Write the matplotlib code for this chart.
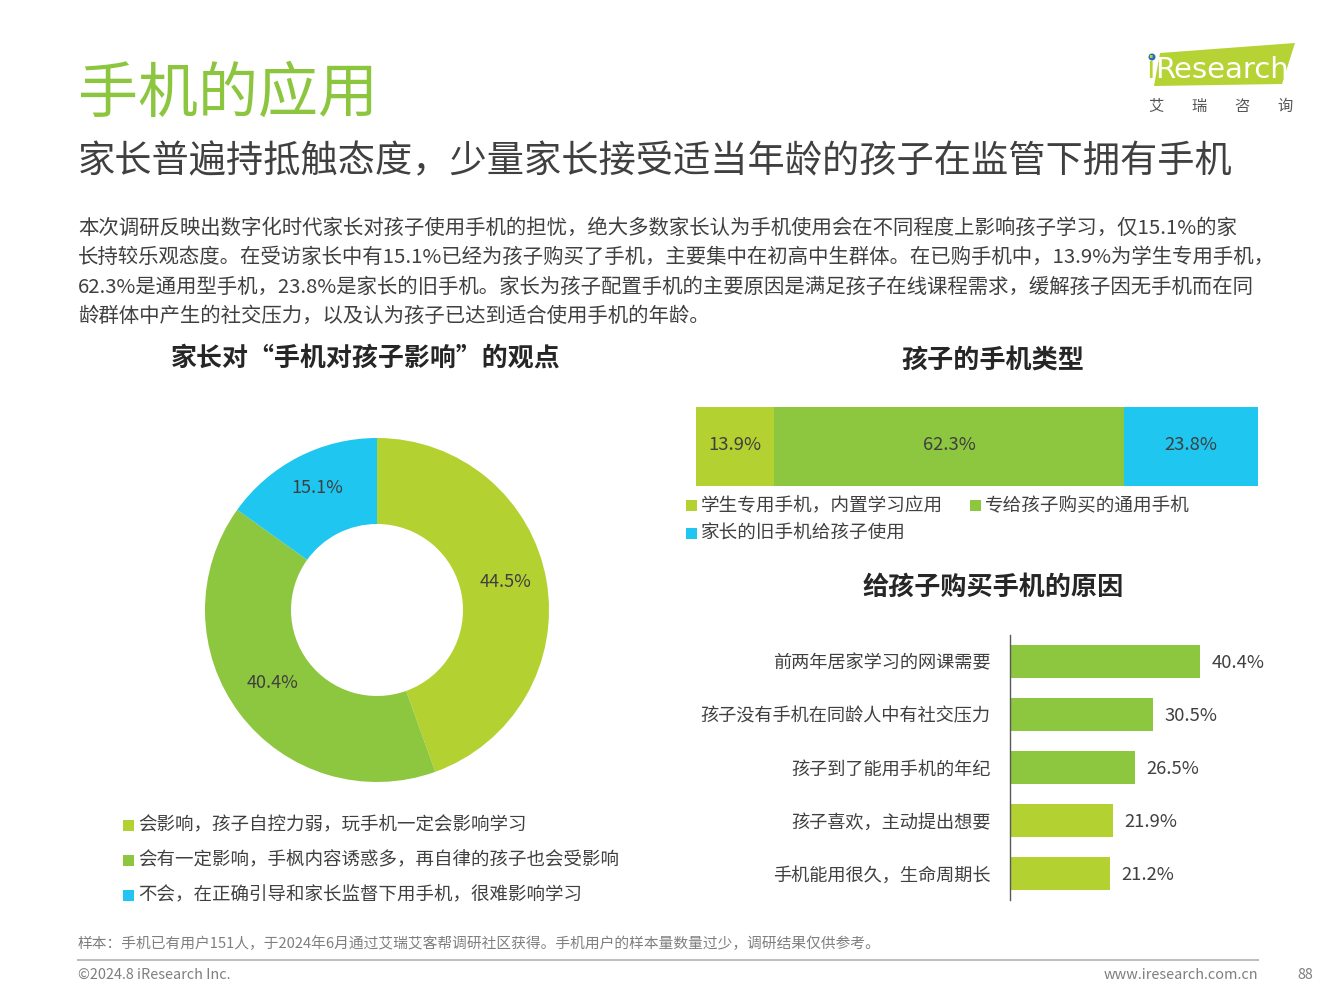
import matplotlib
matplotlib.use("Agg")
import matplotlib.pyplot as plt
from matplotlib.patches import Polygon, Rectangle, Circle

plt.rcParams["font.family"] = ["Noto Sans CJK SC", "DejaVu Sans"]

W, H = 1333, 1000

# donut: 家长对“手机对孩子影响”的观点
impact_labels = ["会影响，孩子自控力弱，玩手机一定会影响学习",
                 "会有一定影响，手枫内容诱惑多，再自律的孩子也会受影响",
                 "不会，在正确引导和家长监督下用手机，很难影响学习"]
impact_values = [44.5, 40.4, 15.1]

# stacked bar: 孩子的手机类型
type_labels = ["学生专用手机，内置学习应用", "专给孩子购买的通用手机", "家长的旧手机给孩子使用"]
type_values = [13.9, 62.3, 23.8]

# horizontal bars: 给孩子购买手机的原因
reason_labels = ["前两年居家学习的网课需要", "孩子没有手机在同龄人中有社交压力", "孩子到了能用手机的年纪",
                 "孩子喜欢，主动提出想要", "手机能用很久，生命周期长"]
reason_values = [40.4, 30.5, 26.5, 21.9, 21.2]

YG = "#B3D130"
GREEN = "#8DC63F"
BLUE = "#1EC6F0"
DARK = "#404040"

body_lines = [
    "本次调研反映出数字化时代家长对孩子使用手机的担忧，绝大多数家长认为手机使用会在不同程度上影响孩子学习，仅15.1%的家",
    "长持较乐观态度。在受访家长中有15.1%已经为孩子购买了手机，主要集中在初高中生群体。在已购手机中，13.9%为学生专用手机，",
    "62.3%是通用型手机，23.8%是家长的旧手机。家长为孩子配置手机的主要原因是满足孩子在线课程需求，缓解孩子因无手机而在同",
    "龄群体中产生的社交压力，以及认为孩子已达到适合使用手机的年龄。",
]


def fx(x):
    return x / W


def fy(y):
    return 1 - y / H


def box(x0, y0, x1, y1):
    return [fx(x0), fy(y1), (x1 - x0) / W, (y1 - y0) / H]


fig = plt.figure(figsize=(W / 100, H / 100), dpi=100)

# titles
fig.text(fx(78), fy(95), "手机的应用", fontsize=43.2, color="#8CC63E", va="center", ha="left")
fig.text(fx(78), fy(162), "家长普遍持抵触态度，少量家长接受适当年龄的孩子在监管下拥有手机",
         fontsize=26.8, color=DARK, va="center", ha="left")
for i, line in enumerate(body_lines):
    fig.text(fx(78), fy(228 + i * 29.5), line, fontsize=14.7, color=DARK, va="center", ha="left")

# logo
logo = fig.add_axes([0, 0, 1, 1], facecolor="none")
logo.set_xlim(0, W)
logo.set_ylim(H, 0)
logo.axis("off")
logo.add_patch(Polygon([(1160, 53), (1295, 43), (1282, 84), (1154, 86)], closed=True, color="#B5D334", lw=0))
logo.text(1150, 70, "i", fontsize=22, color="#B5D334", va="center", ha="center", family="DejaVu Sans")
logo.add_patch(Circle((1152, 57), 3.5, color="#2A6CB5", lw=0))
logo.text(1222, 70, "Research", fontsize=21, color="white", va="center", ha="center", family="DejaVu Sans")
for i, ch in enumerate("艾瑞咨询"):
    logo.text(1156 + i * 43, 106, ch, fontsize=11, color="#555555", va="center", ha="center")

# section titles
fig.text(fx(366), fy(358), "家长对“手机对孩子影响”的观点", fontsize=18.7, fontweight="bold", color="#262626",
         ha="center", va="center")
fig.text(fx(993), fy(360), "孩子的手机类型", fontsize=18.8, fontweight="bold", color="#262626",
         ha="center", va="center")
fig.text(fx(993), fy(587), "给孩子购买手机的原因", fontsize=18.8, fontweight="bold", color="#262626",
         ha="center", va="center")

# donut
ax = fig.add_axes(box(205, 438, 549, 782))
wedges, texts, autotexts = ax.pie(impact_values, colors=[YG, GREEN, BLUE], startangle=90, counterclock=False,
                                  radius=1, wedgeprops=dict(width=0.5, linewidth=0),
                                  autopct=lambda p: f"{p:.1f}%", pctdistance=0.76,
                                  textprops=dict(fontsize=13, color=DARK))
for t in autotexts:
    x, y = t.get_position()
    t.set_position((x, y + 0.035))
ax.set_xlim(-1, 1)
ax.set_ylim(-1, 1)
ax.set_aspect("equal")

for i, (lab, c) in enumerate(zip(impact_labels, [YG, GREEN, BLUE])):
    y = 825 + i * 35
    fig.patches.append(Rectangle((fx(123), fy(y + 6)), 11 / W, 11 / H, transform=fig.transFigure,
                                 color=c, lw=0, figure=fig))
    fig.text(fx(138), fy(y), lab, fontsize=13.3, color=DARK, ha="left", va="center")

# stacked bar
ax2 = fig.add_axes(box(696, 407, 1258, 486))
left = 0
for v, c in zip(type_values, [YG, GREEN, BLUE]):
    ax2.barh(0, v, left=left, height=1, color=c, lw=0)
    ax2.text(left + v / 2, 0.02, f"{v}%", fontsize=13.3, color=DARK, ha="center", va="center")
    left += v
ax2.set_xlim(0, sum(type_values))
ax2.set_ylim(-0.5, 0.5)
ax2.axis("off")

legend_pos = [(686, 505), (970, 505), (686, 533)]
for (x, y), lab, c in zip(legend_pos, type_labels, [YG, GREEN, BLUE]):
    fig.patches.append(Rectangle((fx(x), fy(y + 6)), 11 / W, 11 / H, transform=fig.transFigure,
                                 color=c, lw=0, figure=fig))
    fig.text(fx(x + 15), fy(y), lab, fontsize=13.4, color=DARK, ha="left", va="center")

# horizontal bars
ax3 = fig.add_axes(box(1010, 635, 1245, 900))
ypos = list(range(len(reason_values)))
bar_colors = [GREEN, GREEN, GREEN, YG, YG]
ax3.barh(ypos, reason_values, height=0.62, color=bar_colors, lw=0)
for y, v in zip(ypos, reason_values):
    ax3.text(v + 2.4, y + 0.03, f"{v}%", fontsize=13.3, color=DARK, ha="left", va="center")
ax3.set_xlim(0, 50)
ax3.set_ylim(len(reason_values) - 0.5, -0.5)
ax3.set_yticks(ypos)
ax3.set_yticklabels(reason_labels, fontsize=13.1, color=DARK)
ax3.tick_params(axis="y", length=0, pad=14)
ax3.set_xticks([])
for s in ["top", "right", "bottom"]:
    ax3.spines[s].set_visible(False)
ax3.spines["left"].set_color("#595959")
ax3.spines["left"].set_linewidth(1)
ax3.set_facecolor("none")

# footer
fig.text(fx(78), fy(944), "样本：手机已有用户151人，于2024年6月通过艾瑞艾客帮调研社区获得。手机用户的样本量数量过少，调研结果仅供参考。",
         fontsize=10.6, color="#7F7F7F", ha="left", va="center")
logo.plot([78, 1258], [960, 960], color="#BFBFBF", lw=1.5)
fig.text(fx(78), fy(975), "©2024.8 iResearch Inc.", fontsize=10.4, color="#7F7F7F", ha="left", va="center")
fig.text(fx(1258), fy(975), "www.iresearch.com.cn", fontsize=10.4, color="#7F7F7F", ha="right", va="center")
fig.text(fx(1313), fy(975), "88", fontsize=10.4, color="#7F7F7F", ha="right", va="center")

fig.savefig("out.png", dpi=100)
